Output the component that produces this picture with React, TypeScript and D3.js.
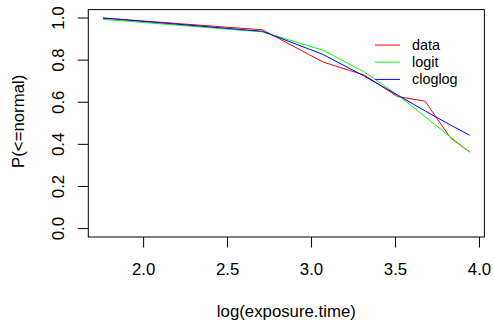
import { useEffect, useRef } from "react"
import * as d3 from "d3"

// log of exposure time, one entry per group
const logExposure = [1.758, 2.708, 3.068, 3.314, 3.512, 3.676, 3.829, 3.942]
// observed proportion normal
const observed = [1.0, 0.944, 0.791, 0.729, 0.627, 0.605, 0.429, 0.364]
// fitted values
const logitFit = [0.994, 0.934, 0.847, 0.744, 0.635, 0.532, 0.433, 0.363]
const cloglogFit = [0.9999, 0.937, 0.827, 0.724, 0.634, 0.559, 0.491, 0.443]

const xTicks = [2.0, 2.5, 3.0, 3.5, 4.0]
const yTicks = [0.0, 0.2, 0.4, 0.6, 0.8, 1.0]

const seriesNames = ["data", "logit", "cloglog"]
const seriesColors = ["#ff0000", "#00ff00", "#0000ff"]

export default function App() {
  const svgRef = useRef<SVGSVGElement | null>(null)

  useEffect(() => {
    if (!svgRef.current) return
    const svg = d3.select(svgRef.current)
    svg.selectAll("*").remove()

    const font = "'Liberation Sans', Arial, sans-serif"

    // R style 4% padding on the data range
    const xMin = d3.min(logExposure) as number
    const xMax = d3.max(logExposure) as number
    const pad = (xMax - xMin) * 0.04
    const x = d3
      .scaleLinear()
      .domain([xMin - pad, xMax + pad])
      .range([88.3, 484.4])

    const y = d3.scaleLinear().domain([-0.04, 1.04]).range([237, 9.6])

    const left = x.range()[0]
    const right = x.range()[1]
    const top = y.range()[1]
    const bottom = y.range()[0]

    svg.append("rect").attr("width", 494).attr("height", 322).attr("fill", "#ffffff")

    // lines
    const allSeries = [observed, logitFit, cloglogFit]
    const line = d3
      .line<number>()
      .x((_, i) => x(logExposure[i]))
      .y((d) => y(d))

    allSeries.forEach((s, i) => {
      svg
        .append("path")
        .datum(s)
        .attr("fill", "none")
        .attr("stroke", seriesColors[i])
        .attr("stroke-width", 1)
        .attr("d", line)
    })

    // box
    svg
      .append("rect")
      .attr("x", left)
      .attr("y", top)
      .attr("width", right - left)
      .attr("height", bottom - top)
      .attr("fill", "none")
      .attr("stroke", "#000")
      .attr("stroke-width", 1)

    // x axis
    const xAxis = svg.append("g")
    xAxis
      .selectAll("line")
      .data(xTicks)
      .enter()
      .append("line")
      .attr("x1", (d) => x(d))
      .attr("x2", (d) => x(d))
      .attr("y1", bottom)
      .attr("y2", bottom + 10.5)
      .attr("stroke", "#000")
    xAxis
      .selectAll("text")
      .data(xTicks)
      .enter()
      .append("text")
      .attr("x", (d) => x(d))
      .attr("y", 275)
      .attr("text-anchor", "middle")
      .attr("font-family", font)
      .attr("font-size", 16.8)
      .text((d) => d3.format(".1f")(d))

    // y axis
    const yAxis = svg.append("g")
    yAxis
      .selectAll("line")
      .data(yTicks)
      .enter()
      .append("line")
      .attr("x1", left)
      .attr("x2", left - 10.5)
      .attr("y1", (d) => y(d))
      .attr("y2", (d) => y(d))
      .attr("stroke", "#000")
    yAxis
      .selectAll("text")
      .data(yTicks)
      .enter()
      .append("text")
      .attr("transform", (d) => `translate(63.5,${y(d)}) rotate(-90)`)
      .attr("text-anchor", "middle")
      .attr("font-family", font)
      .attr("font-size", 16.8)
      .text((d) => d3.format(".1f")(d))

    // axis titles
    svg
      .append("text")
      .attr("x", (left + right) / 2)
      .attr("y", 317)
      .attr("text-anchor", "middle")
      .attr("font-family", font)
      .attr("font-size", 16.8)
      .text("log(exposure.time)")

    svg
      .append("text")
      .attr("transform", `translate(24,${(top + bottom) / 2 - 2}) rotate(-90)`)
      .attr("text-anchor", "middle")
      .attr("font-family", font)
      .attr("font-size", 16.8)
      .text("P(<=normal)")

    // legend
    const legend = svg.append("g")
    seriesNames.forEach((name, i) => {
      const ly = 45 + i * 17.2
      legend
        .append("line")
        .attr("x1", 375)
        .attr("x2", 400)
        .attr("y1", ly)
        .attr("y2", ly)
        .attr("stroke", seriesColors[i])
        .attr("stroke-width", 1)
      legend
        .append("text")
        .attr("x", 412)
        .attr("y", ly + 5)
        .attr("font-family", font)
        .attr("font-size", 14.4)
        .text(name)
    })
  }, [])

  return (
    <svg
      ref={svgRef}
      width={494}
      height={322}
      style={{ position: "absolute", left: 0, top: 0 }}
    ></svg>
  )
}
